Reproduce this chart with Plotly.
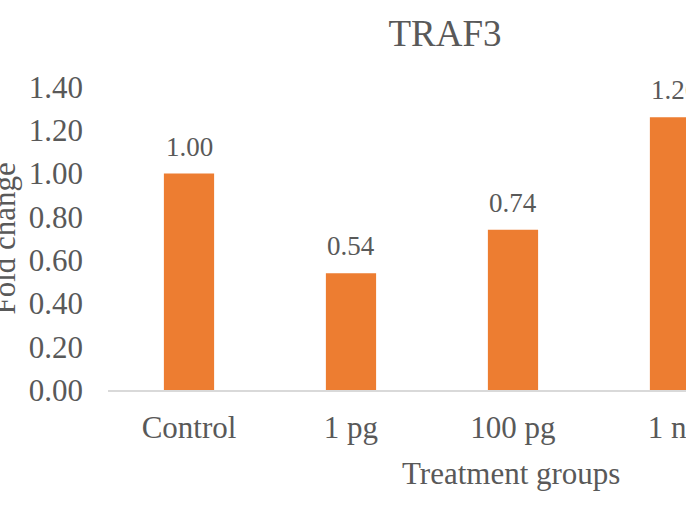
import plotly.graph_objects as go

categories = ["Control", "1 pg", "100 pg", "1 ng"]
fold_change = [1.00, 0.54, 0.74, 1.26]
y_ticks = [0.0, 0.2, 0.4, 0.6, 0.8, 1.0, 1.2, 1.4]
y_tick_labels = ["0.00", "0.20", "0.40", "0.60", "0.80", "1.00", "1.20", "1.40"]

FONT = "Liberation Serif"
GRAY = "#595959"
ORANGE = "#ED7D31"

W, H = 686, 521
L, T, B = 108, 87, 131
PW = W - L               # plot width in px
PH = H - T - B           # plot height in px

fig = go.Figure()
fig.add_trace(go.Bar(
    x=categories, y=fold_change, width=0.31,
    marker=dict(color=ORANGE, line=dict(width=0)),
    hoverinfo="skip",
))

for c, v in zip(categories, fold_change):
    fig.add_annotation(x=c, y=v, xref="x", yref="y", text=f"{v:.2f}",
                       showarrow=False, yanchor="bottom", yshift=10,
                       font=dict(family=FONT, size=27, color=GRAY))

# y axis title (partly cut at left edge, as in the reference)
fig.add_annotation(x=(4 - L) / PW, y=0.5, xref="paper", yref="paper",
                   text="Fold change", textangle=-90, showarrow=False,
                   xanchor="center", yanchor="middle",
                   font=dict(family=FONT, size=31, color=GRAY))
# x axis title
fig.add_annotation(x=(511 - L) / PW, y=(PH - (473 - T)) / PH, xref="paper", yref="paper",
                   text="Treatment groups", showarrow=False,
                   xanchor="center", yanchor="middle",
                   font=dict(family=FONT, size=31, color=GRAY))

fig.update_layout(
    width=W, height=H,
    margin=dict(l=L, r=0, t=T, b=B, autoexpand=False),
    paper_bgcolor="white", plot_bgcolor="white",
    showlegend=False,
    title=dict(text="TRAF3", x=445 / W, y=(H - 33) / H,
               xanchor="center", yanchor="middle",
               font=dict(family=FONT, size=37, color=GRAY)),
    xaxis=dict(type="category", range=[-0.5, 3.068], showgrid=False,
               automargin=False,
               showline=True, linecolor="#D9D9D9", linewidth=1.5,
               ticks="", ticklabelstandoff=9,
               tickfont=dict(family=FONT, size=31, color=GRAY)),
    yaxis=dict(range=[0, 1.4], showgrid=False, zeroline=False, showline=False,
               automargin=False,
               tickvals=y_ticks, ticktext=y_tick_labels, ticks="",
               ticklabelstandoff=24,
               tickfont=dict(family=FONT, size=31, color=GRAY)),
)

fig.write_html(
    "out.html",
    config={"displayModeBar": False},
    post_script="document.documentElement.style.overflow='hidden';"
                "document.body.style.margin='0';document.body.style.overflow='hidden';",
)
